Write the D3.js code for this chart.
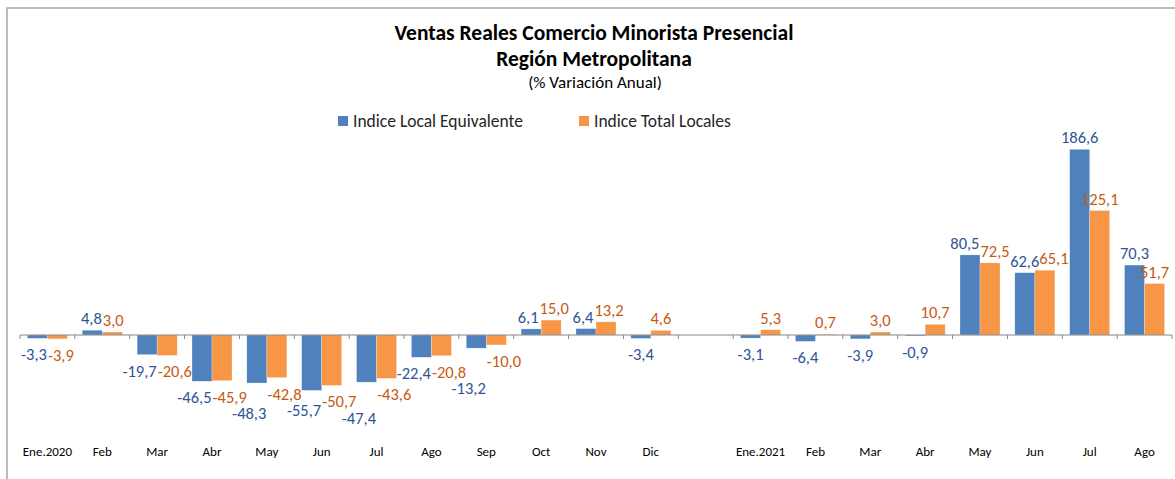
<!DOCTYPE html>
<html>
<head>
<meta charset="utf-8">
<script src="https://cdn.jsdelivr.net/npm/d3@7"></script>
<style>
  body { margin: 0; background: #fff; }
  text { font-family: Carlito, Calibri, "Liberation Sans Narrow", "Liberation Sans", Arial, sans-serif; }
</style>
</head>
<body>
<svg id="chart" width="1175" height="479"></svg>
<script>
// categories (empty slot between Dic and Ene.2021)
var months = ["Ene.2020", "Feb", "Mar", "Abr", "May", "Jun", "Jul", "Ago", "Sep", "Oct", "Nov", "Dic",
    "", "Ene.2021", "Feb", "Mar", "Abr", "May", "Jun", "Jul", "Ago"];
var localEquiv = [-3.3, 4.8, -19.7, -46.5, -48.3, -55.7, -47.4, -22.4, -13.2, 6.1, 6.4, -3.4,
    null, -3.1, -6.4, -3.9, -0.9, 80.5, 62.6, 186.6, 70.3];
var totalLocales = [-3.9, 3.0, -20.6, -45.9, -42.8, -50.7, -43.6, -20.8, -10.0, 15.0, 13.2, 4.6,
    null, 5.3, 0.7, 3.0, 10.7, 72.5, 65.1, 125.1, 51.7];
var seriesNames = ["Indice Local Equivalente", "Indice Total Locales"];

var colors = ['#4f81bd', '#f79646'],
    labelColors = ['#2f5496', '#c55a11'];

var svg = d3.select('#chart');

// frame
svg.append('path')
    .attr('d', 'M7,479 L7,8 L1175,8')
    .attr('fill', 'none')
    .attr('stroke', '#a6a6a6')
    .attr('stroke-width', 1.5);

// titles
svg.append('text').attr('x', 594).attr('y', 40)
    .attr('text-anchor', 'middle').attr('font-weight', 'bold').attr('font-size', 21.5)
    .text('Ventas Reales Comercio Minorista Presencial');
svg.append('text').attr('x', 594).attr('y', 66)
    .attr('text-anchor', 'middle').attr('font-weight', 'bold').attr('font-size', 21.5)
    .text('Región Metropolitana');
svg.append('text').attr('x', 595).attr('y', 88)
    .attr('text-anchor', 'middle').attr('font-size', 17)
    .text('(% Variación Anual)');

// legend
var legendX = [338, 579];
var legend = svg.selectAll('.legend')
    .data(seriesNames)
    .enter().append('g')
    .attr('class', 'legend')
    .attr('transform', function(d, i) { return 'translate(' + legendX[i] + ',116)'; });
legend.append('rect')
    .attr('width', 10).attr('height', 10)
    .attr('fill', function(d, i) { return colors[i]; });
legend.append('text')
    .attr('x', 15).attr('y', 11)
    .attr('font-size', 17.5)
    .attr('fill', '#262626')
    .text(function(d) { return d; });

var xScale = d3.scaleBand()
    .domain(d3.range(months.length))
    .range([20, 1172]);
var inner = d3.scaleBand()
    .domain([0, 1])
    .range([0, xScale.bandwidth()])
    .paddingInner(0)
    .paddingOuter(0.37);
var yScale = d3.scaleLinear()
    .domain([-80, 200])
    .range([335 + 80 * 0.995, 335 - 200 * 0.995]);

var series = [localEquiv, totalLocales];
var fmt = function(v) { return d3.format('.1f')(v).replace('.', ',').replace('−', '-'); };

// bars
var labelNodes = [[], []];
series.forEach(function(vals, s) {
    var g = svg.append('g');
    var data = vals.map(function(v, i) { return {i: i, v: v}; }).filter(function(d) { return d.v !== null; });
    g.selectAll('rect')
        .data(data)
        .enter().append('rect')
        .attr('x', function(d) { return xScale(d.i) + inner(s); })
        .attr('width', inner.bandwidth())
        .attr('y', function(d) { return yScale(Math.max(0, d.v)); })
        .attr('height', function(d) { return Math.abs(yScale(d.v) - yScale(0)); })
        .attr('fill', colors[s])
        .attr('stroke', '#ffffff')
        .attr('stroke-opacity', 0.5)
        .attr('stroke-width', 0.5);
    g.selectAll('text')
        .data(data)
        .enter().append('text')
        .attr('x', function(d) { return xScale(d.i) + inner(s) + inner.bandwidth() / 2; })
        .attr('y', function(d) { return d.v >= 0 ? yScale(d.v) - 6 : yScale(d.v) + 22; })
        .attr('text-anchor', 'middle')
        .attr('font-size', 16.5)
        .attr('fill', labelColors[s])
        .text(function(d) { return fmt(d.v); })
        .each(function(d) { labelNodes[s][d.i] = this; });
});

// push label pairs of one month apart until they just touch
months.forEach(function(m, i) {
    var a = labelNodes[0][i], b = labelNodes[1][i];
    if (!a || !b) return;
    var ya = +a.getAttribute('y'), yb = +b.getAttribute('y');
    if (Math.abs(ya - yb) > 14) return;
    var xa = +a.getAttribute('x'), xb = +b.getAttribute('x');
    var wa = a.getComputedTextLength(), wb = b.getComputedTextLength();
    var overlap = (xa + wa / 2) - (xb - wb / 2) + 1;
    if (overlap > 0) {
        a.setAttribute('x', xa - overlap * 0.5);
        b.setAttribute('x', xb + overlap * 0.5);
    }
});

// labels that still collide with an earlier one: nudge right a little, else away from the axis
var placed = [];
function hits(node) {
    var bb = node.getBBox();
    return placed.some(function(p) {
        return bb.x < p.x + p.width && bb.x + bb.width > p.x &&
            bb.y + 4 < p.y + p.height && bb.y + bb.height > p.y + 4;
    });
}
months.forEach(function(m, i) {
    [0, 1].forEach(function(s) {
        var node = labelNodes[s][i];
        if (!node) return;
        var v = series[s][i];
        var x0 = +node.getAttribute('x');
        for (var k = 0; k < 40; k++) {
            var ok = false;
            for (var dx = 0; dx <= 12; dx++) {
                node.setAttribute('x', x0 + dx);
                if (!hits(node)) { ok = true; break; }
            }
            if (ok) break;
            node.setAttribute('x', x0);
            node.setAttribute('y', +node.getAttribute('y') + (v < 0 ? 1 : -1));
        }
        placed.push(node.getBBox());
    });
});

// x axis at zero
var axis = svg.append('g')
    .attr('transform', 'translate(0,' + yScale(0) + ')');
axis.append('line')
    .attr('x1', 20).attr('x2', 1172)
    .attr('stroke', '#868686');
axis.selectAll('.tick')
    .data(d3.range(months.length + 1))
    .enter().append('line')
    .attr('x1', function(d) { return 20 + d * xScale.step(); })
    .attr('x2', function(d) { return 20 + d * xScale.step(); })
    .attr('y1', 0).attr('y2', 4)
    .attr('stroke', '#868686');

// category labels
svg.append('g').selectAll('text')
    .data(months)
    .enter().append('text')
    .attr('x', function(d, i) { return xScale(i) + xScale.bandwidth() / 2; })
    .attr('y', 456)
    .attr('text-anchor', 'middle')
    .attr('font-size', 13)
    .attr('fill', '#000')
    .text(function(d) { return d; });
</script>
</body>
</html>
